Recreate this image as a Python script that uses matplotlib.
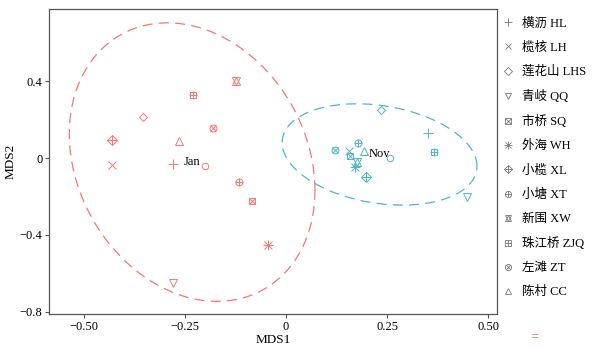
import numpy as np
import matplotlib
matplotlib.use('Agg')
import matplotlib.pyplot as plt
from matplotlib.lines import Line2D
from matplotlib.legend_handler import HandlerTuple

plt.rcParams['font.family'] = ['Liberation Serif', 'Noto Sans CJK SC']
plt.rcParams['axes.unicode_minus'] = True

# Sampling sites (legend order); the 13th point has no legend entry
sites = ['横沥 HL', '榄核 LH', '莲花山 LHS', '青岐 QQ', '市桥 SQ', '外海 WH',
         '小榄 XL', '小塘 XT', '新围 XW', '珠江桥 ZJQ', '左滩 ZT', '陈村 CC']
shapes = ['plus', 'cross', 'diamond', 'tri_down', 'square_x', 'asterisk',
          'diamond_plus', 'circle_plus', 'star', 'square_plus', 'circle_x',
          'tri_up', 'circle']

# NMDS scores per season, one value per shape above
jan_x = [-0.279, -0.430, -0.354, -0.280, -0.085, -0.044, -0.430, -0.116,
         -0.124, -0.229, -0.180, -0.264, -0.200]
jan_y = [-0.031, -0.035, 0.215, -0.652, -0.224, -0.453, 0.094, -0.123,
         0.402, 0.328, 0.158, 0.090, -0.042]
nov_x = [0.352, 0.156, 0.234, 0.448, 0.158, 0.171, 0.198, 0.177,
         0.176, 0.367, 0.120, 0.194, 0.256]
nov_y = [0.132, 0.036, 0.250, -0.201, 0.012, -0.049, -0.097, 0.076,
         -0.019, 0.029, 0.042, 0.036, -0.002]

seasons = ['Jan', 'Nov']
colors = ['#F8766D', '#4DB6D0']

# each shape built from overlaid matplotlib markers: (marker, size factor)
parts = {
    'plus': [('+', 1.2)],
    'cross': [('x', 1.0)],
    'diamond': [('D', 0.8)],
    'tri_down': [('v', 1.0)],
    'square_x': [('s', 0.9), ('x', 0.9)],
    'asterisk': [('+', 1.2), ('x', 0.95)],
    'diamond_plus': [('D', 0.85), ('+', 1.3)],
    'circle_plus': [('o', 0.9), ('+', 0.95)],
    'star': [('^', 0.95), ('v', 0.95)],
    'square_plus': [('s', 0.9), ('+', 1.0)],
    'circle_x': [('o', 0.9), ('x', 0.7)],
    'tri_up': [('^', 1.0)],
    'circle': [('o', 0.85)],
}
MS = 5.5


def ellipse_path(x, y, conf=0.95, segments=120):
    # standard-deviation ellipse scaled to a chi-square confidence level
    pts = np.column_stack([x, y])
    center = pts.mean(axis=0)
    cov = np.cov(pts, rowvar=False)
    radius = np.sqrt(-2 * np.log(1 - conf))
    chol = np.linalg.cholesky(cov).T
    ang = np.linspace(0, 2 * np.pi, segments + 1)
    circle = np.column_stack([np.cos(ang), np.sin(ang)])
    return center + radius * circle @ chol


fig = plt.figure(figsize=(5.99, 3.49), dpi=100)
ax = fig.add_axes([0.0823, 0.1003, 0.747, 0.8737])

for xs, ys, col, lab in [(jan_x, jan_y, colors[0], seasons[0]),
                         (nov_x, nov_y, colors[1], seasons[1])]:
    for xi, yi, sh in zip(xs, ys, shapes):
        for m, f in parts[sh]:
            ax.plot(xi, yi, linestyle='none', marker=m, markersize=MS * f,
                    markerfacecolor='none', markeredgecolor=col,
                    markeredgewidth=0.7)
    e = ellipse_path(xs, ys)
    ax.plot(e[:, 0], e[:, 1], color=col, lw=0.9, linestyle=(0, (8, 5)))
    ax.text(np.mean(xs), np.mean(ys), lab, fontsize=9, ha='center',
            va='center', color='black')

ax.set_xlim(-0.585, 0.521)
ax.set_ylim(-0.811, 0.775)
ax.set_xticks([-0.5, -0.25, 0, 0.25, 0.5])
ax.set_xticklabels(['\u22120.50', '\u22120.25', '0', '0.25', '0.50'])
ax.set_yticks([-0.8, -0.4, 0, 0.4])
ax.set_yticklabels(['\u22120.8', '\u22120.4', '0', '0.4'])
ax.tick_params(direction='out', length=3, width=0.8, color='#555555',
               labelsize=9, pad=2)
for s in ax.spines.values():
    s.set_color('#555555')
    s.set_linewidth(0.9)
ax.set_xlabel('MDS1', fontsize=9.5, labelpad=1)
ax.set_ylabel('MDS2', fontsize=9.5, labelpad=2)

# legend of site shapes
handles = []
for sh in shapes[:len(sites)]:
    handles.append(tuple(
        Line2D([], [], linestyle='none', marker=m, markersize=MS * f * 0.9,
               markerfacecolor='none', markeredgecolor='#777777',
               markeredgewidth=0.6)
        for m, f in parts[sh]))
fig.legend(handles, sites, loc='upper left', bbox_to_anchor=(0.83, 0.965),
           frameon=False, fontsize=9, handlelength=1.0, handletextpad=0.6,
           labelspacing=0.97, borderaxespad=0,
           handler_map={tuple: HandlerTuple(ndivide=1, pad=0)})
fig.text(0.892, 0.025, '=', color=colors[0], fontsize=10, ha='center',
         fontweight='bold')

fig.savefig('out.png', dpi=100)
